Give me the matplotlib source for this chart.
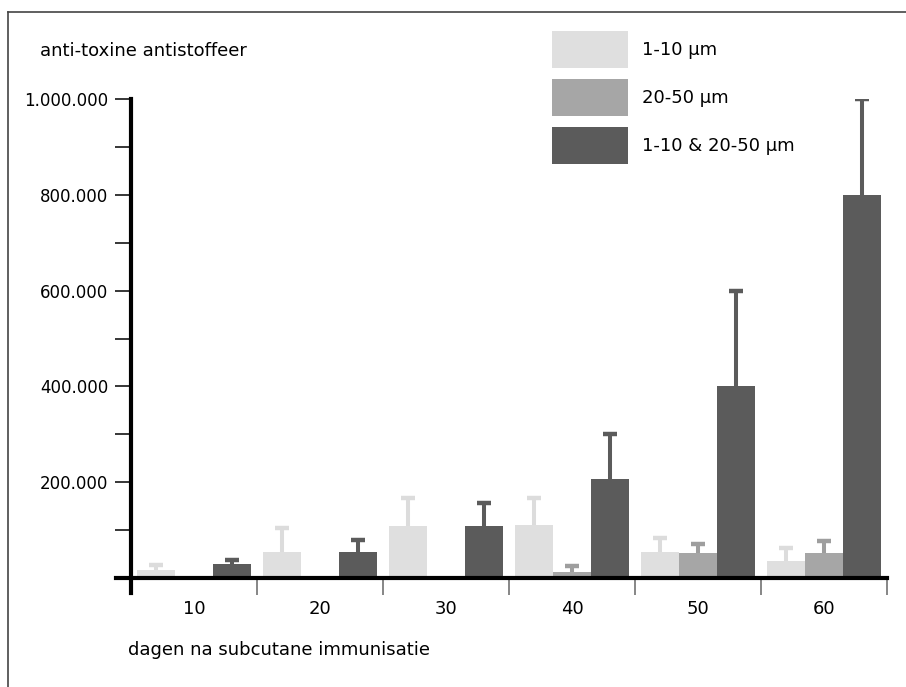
import numpy as np
import matplotlib
matplotlib.use("Agg")
from matplotlib import pyplot as plt
from matplotlib.lines import Line2D

plt.rcParams['font.family'] = ['DejaVu Sans']

days = ['10', '20', '30', '40', '50', '60']
series = ['1-10 µm', '20-50 µm', '1-10 & 20-50 µm']
small = [16000, 54000, 108000, 110000, 54000, 35000]
small_err = [12000, 50000, 60000, 58000, 29000, 27000]
large = [0, 0, 0, 12500, 52000, 52000]
large_err = [0, 0, 0, 12000, 18000, 25000]
mixed = [29000, 54000, 108000, 206000, 400000, 800000]
mixed_err = [9000, 25000, 48000, 94000, 200000, 200000]
yticks = [200000, 400000, 600000, 800000, 1000000]
ytick_labels = ['200.000', '400.000', '600.000', '800.000', '1.000.000']

colors = ['#DFDFDF', '#A6A6A6', '#5B5B5B']
err_colors = ['#DCDCDC', '#9E9E9E', '#5B5B5B']

W, H = 906, 687
fig = plt.figure(figsize=(W / 100, H / 100), dpi=100)
ax = fig.add_axes([131 / W, (H - 578) / H, 756 / W, 479 / H])

x = np.arange(len(days)) + 0.5
bw = 38 / 126
vals = [small, large, mixed]
errs = [small_err, large_err, mixed_err]
handles = []
for i in range(3):
    pos = x + (i - 1) * bw
    h = ax.bar(pos, vals[i], width=bw, color=colors[i], zorder=2, label=series[i])
    handles.append(h)
    v = np.array(vals[i], dtype=float)
    e = np.array(errs[i], dtype=float)
    m = v > 0
    ax.vlines(pos[m], v[m], v[m] + e[m], color=err_colors[i], linewidth=2.9, zorder=1)
    ax.plot(pos[m], v[m] + e[m], linestyle='none', marker='_', markersize=9.5,
            markeredgewidth=3.2, color=err_colors[i], zorder=1)

ax.set_xlim(0, 6)
ax.set_ylim(0, 1000000)
for s in ax.spines.values():
    s.set_visible(False)

# axis lines (cross at origin)
ax.add_line(Line2D([0, 0], [-15 / 479, 1], transform=ax.transAxes, color='black',
                   linewidth=3, clip_on=False, zorder=3))
ax.add_line(Line2D([-15 / 756, 1], [0, 0], transform=ax.transAxes, color='black',
                   linewidth=3, clip_on=False, zorder=3))

ax.set_yticks(np.arange(100000, 1000001, 100000), minor=True)
ax.set_yticks(yticks)
ax.set_yticklabels(ytick_labels)
ax.tick_params(axis='y', which='both', length=11.5, width=1.1, color='black', pad=5,
               labelsize=12)

ax.set_xticks(np.arange(1, 7))
ax.set_xticklabels([])
ax.tick_params(axis='x', which='major', length=12, width=1.1, color='#666666')
ax.set_xticks(x, minor=True)
ax.set_xticklabels(days, minor=True)
ax.tick_params(axis='x', which='minor', length=0, pad=16, labelsize=13)

fig.text(40 / W, 1 - 51 / H, 'anti-toxine antistoffeer', fontsize=13, va='center', ha='left')
fig.text(128 / W, 1 - 650 / H, 'dagen na subcutane immunisatie', fontsize=13, va='center',
         ha='left')

fig.legend(handles=handles, labels=series, loc='upper left',
           bbox_to_anchor=(552 / W, 1 - 31 / H), frameon=False, fontsize=13,
           borderpad=0, borderaxespad=0, handlelength=4.2, handleheight=2.785,
           labelspacing=0.61, handletextpad=0.78)

# outer frame
fig.add_artist(Line2D([8 / W, 8 / W], [0, 1 - 12 / H], color='#444444', linewidth=1.2))
fig.add_artist(Line2D([8 / W, 1], [1 - 12 / H, 1 - 12 / H], color='#444444', linewidth=1.2))

fig.savefig('out.png', dpi=100)
